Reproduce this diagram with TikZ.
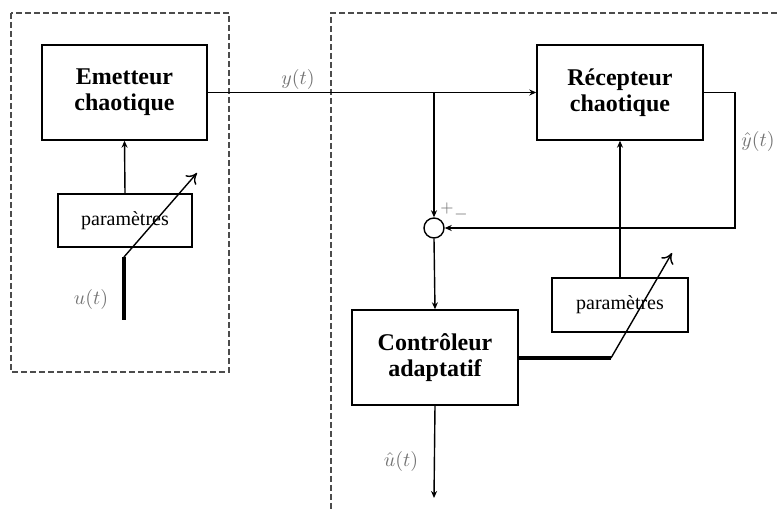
\documentclass[tikz,border=0pt]{standalone}
\usepackage{amsmath,amssymb}
\usepackage{fontspec}
\setmainfont{Liberation Serif}
\usepackage{tikz}
\usetikzlibrary{arrows.meta, calc}

\tikzset{
  bloc/.style={draw, line width=0.7pt, align=center, font=\bfseries\fontsize{12}{13}\selectfont},
  parbox/.style={draw, line width=0.7pt, font=\fontsize{10}{11}\selectfont, minimum width=67pt, minimum height=26.5pt},
  fleche/.style={line width=0.7pt, -{Stealth[length=3.5pt,width=3pt]}},
  reglage/.style={line width=0.7pt, -{To[length=5pt,width=7pt]}},
  gros/.style={line width=1.6pt},
  cadre/.style={line width=0.6pt, dash pattern=on 3pt off 1.5pt, gray!60!black},
  signal/.style={text=black!55, font=\fontsize{10}{11}\selectfont}
}

\begin{document}
\begin{tikzpicture}[x=0.5pt, y=-0.5pt]
        \useasboundingbox (0,0) rectangle (777,517);

        % emetteur
        \draw[cadre] (11,13) rectangle (229,372);
        \node[bloc, minimum width=82.5pt, minimum height=47.5pt] (emet) at (124.5,92.5) {Emetteur\\chaotique};
        \node[parbox] (parE) at (125,220.5) {paramètres};
        \draw[fleche] (parE.north) -- (emet.south);

        \coordinate (uin) at (124,320);
        \coordinate (ubend) at (124,257);
        \coordinate (utip) at (197,173);
        \draw[gros] (uin) -- (ubend);
        \draw[reglage] (ubend) -- (utip);
        \node[signal] (ulab) at (91,300) {$u(t)$};

        % recepteur
        \draw[cadre] (777,13) -- (331,13) -- (331,512);
        \node[bloc, minimum width=83pt, minimum height=47.5pt] (recep) at (620,92.5) {Récepteur\\chaotique};
        \node[parbox, minimum width=68pt, minimum height=27pt] (parR) at (620,305) {paramètres};
        \node[draw, circle, line width=0.7pt, minimum size=10pt, inner sep=0pt] (somme) at (434,228) {};
        \node[bloc, minimum width=83pt, minimum height=47.5pt] (ctrl) at (435,357.5) {Contrôleur\\adaptatif};

        \coordinate (j) at (434,92.5);
        \coordinate (yr) at (735,92.5);
        \coordinate (yb) at (735,228);
        \coordinate (uout) at (434,498);

        \draw[fleche] (emet.east) -- (recep.west);
        \draw[fleche] (j) -- (somme.north);
        \draw[fleche] (recep.east) -- (yr) -- (yb) -- (somme.east);
        \draw[fleche] (somme.south) -- (ctrl.north);
        \draw[fleche] (ctrl.south) -- (uout);
        \draw[fleche] (parR.north) -- (recep.south);

        \coordinate (cbend) at (611,358);
        \coordinate (ctip) at (672,253);
        \draw[gros] (ctrl.east |- cbend) -- (cbend);
        \draw[reglage] (cbend) -- (ctip);

        \node[signal] (ylab) at (298,80) {$y(t)$};
        \node[signal] (yhlab) at (758,142) {$\hat{y}(t)$};
        \node[signal] (uhlab) at (401,462) {$\hat{u}(t)$};
        \node[signal, font=\fontsize{8}{9}\selectfont] (plus) at (447,209) {$+$};
        \node[signal, font=\fontsize{8}{9}\selectfont] (moins) at (461,215) {$-$};
    \end{tikzpicture}
\end{document}
